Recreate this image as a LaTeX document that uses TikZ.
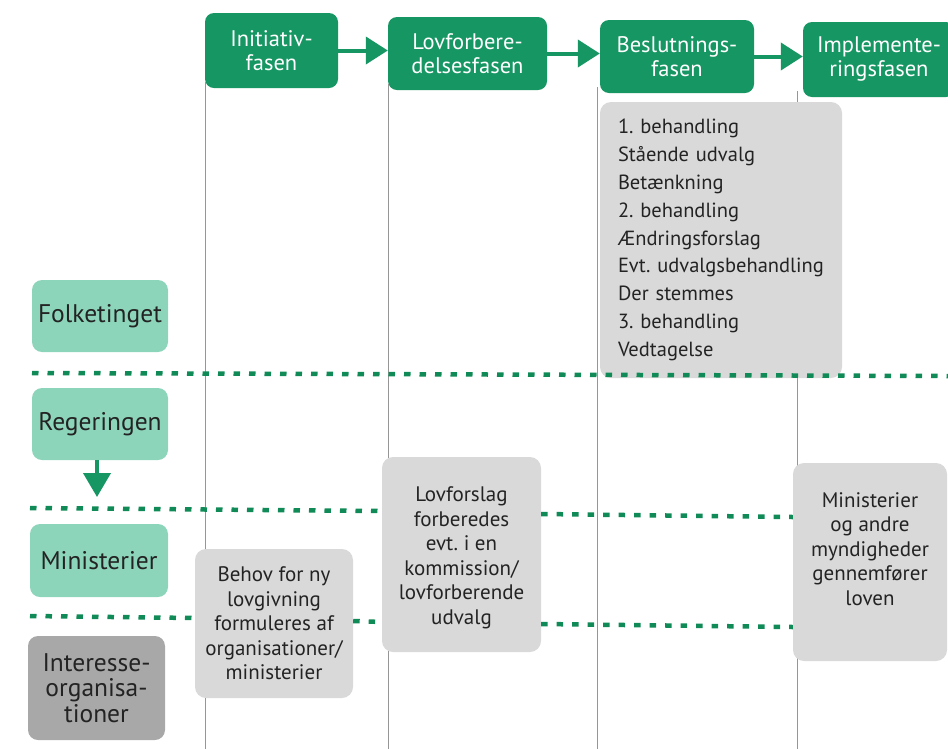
\documentclass[tikz,border=0pt]{standalone}
\usepackage{fontspec}
\setmainfont{PT Sans}
\usetikzlibrary{arrows.meta}
\definecolor{hdrgreen}{RGB}{22,150,98}
\definecolor{lightgreen}{RGB}{140,213,187}
\definecolor{dotgreen}{RGB}{16,138,86}
\definecolor{boxgray}{RGB}{217,217,217}
\definecolor{darkgray}{RGB}{168,168,168}
\definecolor{linegray}{RGB}{150,150,150}
\definecolor{txt}{RGB}{35,35,35}
\tikzset{
  hdr/.style={rectangle, rounded corners=9pt, fill=hdrgreen, text=white, align=center,
    inner sep=0pt, font=\fontsize{22.5}{24}\selectfont},
  actor/.style={rectangle, rounded corners=10pt, fill=lightgreen, text=txt, align=center,
    inner sep=0pt, font=\fontsize{25.5}{25.5}\selectfont},
  actorgray/.style={actor, fill=darkgray},
  graybox/.style={rectangle, rounded corners=11pt, fill=boxgray, text=txt, align=center,
    inner sep=0pt, font=\fontsize{21}{24.5}\selectfont},
  boxtext/.style={inner sep=0pt, text=txt, align=center, font=\fontsize{21}{24.5}\selectfont},
  phasearrow/.style={draw=hdrgreen, line width=4pt, -{Triangle[length=22pt,width=27pt]}},
  vline/.style={draw=linegray, line width=1pt},
  dotline/.style={draw=dotgreen, line width=4.5pt, dash pattern=on 6.5pt off 9pt}
}
\begin{document}
\frenchspacing
\begin{tikzpicture}[x=1pt,y=-1pt]
\useasboundingbox (0,0) rectangle (948,748);
% phase headers
\node[hdr, minimum width=133pt, minimum height=75pt] (h1) at (271.5,50.5) {Initiativ-\\fasen};
\node[hdr, minimum width=159pt, minimum height=73pt] (h2) at (467.5,53.5) {Lovforbere-\\delsesfasen};
\node[hdr, minimum width=154pt, minimum height=73pt] (h3) at (677,56.5) {Beslutnings-\\fasen};
\node[hdr, minimum width=152pt, minimum height=75pt] (h4) at (879,59.5) {Implemente-\\ringsfasen};
\draw[phasearrow] (h1.east) -- (h2.west |- h1.east);
\draw[phasearrow] (h2.east) -- (h3.west |- h2.east);
\draw[phasearrow] (h3.east) -- (h4.west |- h3.east);
% vertical phase lines
\draw[vline] (h1.south west) ++(0.5,-6) -- ++(0,670);
\draw[vline] (h2.south west) ++(0.5,-6) -- ++(0,670);
\draw[vline] (h3.south west) ++(-2,-6) -- ++(0,670);
\draw[vline] (h4.south west) ++(-5,-6) -- ++(0,670);
% actors
\node[actor, minimum width=136pt, minimum height=72pt] (folk) at (100,316) {Folketinget};
\node[actor, minimum width=136pt, minimum height=72pt] (reg) at (100,424) {Regeringen};
\node[actor, minimum width=138pt, minimum height=73pt] (min) at (99,560.5) {Ministerier};
\node[actorgray, minimum width=137pt, minimum height=104pt] (org) at (96.5,688) {Interesse-\\organisa-\\tioner};
\coordinate (regarrow) at (97,497);
\draw[draw=hdrgreen, line width=4pt, -{Triangle[length=24pt,width=27pt]}] (reg.south -| regarrow) -- (regarrow);
% gray boxes
\node[graybox, minimum width=242pt, minimum height=276pt, align=left, text width=206pt,
  font=\fontsize{20.5}{27.8}\selectfont] (list) at (721,240)
  {1. behandling\\Stående udvalg\\Betænkning\\2. behandling\\Ændringsforslag\\Evt. udvalgsbehandling\\Der stemmes\\3. behandling\\Vedtagelse};
\node[graybox, minimum width=159pt, minimum height=195pt] (prep) at (461.5,554.5) {};
\node[boxtext] (prept) at (461.5,558)
  {Lovforslag\\forberedes\\evt. i en\\kommission/\\lovforberende\\udvalg};
\node[graybox, minimum width=158pt, minimum height=149pt] (need) at (274,623.5)
  {Behov for ny\\lovgivning\\formuleres af\\organisationer/\\ministerier};
\node[graybox, minimum width=154pt, minimum height=198pt] (impl) at (870,562) {};
\node[boxtext] (implt) at (870,549)
  {Ministerier\\og andre\\myndigheder\\gennemfører\\loven};
% dotted separators
\coordinate (d1a) at (32,373);
\coordinate (d1b) at (948,376);
\draw[dotline] (d1a) -- (d1b);
\coordinate (d2a) at (30,508);
\draw[dotline] (d2a) -- (prep.west |- 0,511);
\draw[dotline] (prep.east |- 0,514) -- (impl.west |- 0,517);
\coordinate (d3a) at (30,616);
\draw[dotline] (d3a) -- (need.west |- 0,618);
\draw[dotline] (need.east |- 0,621) -- (prep.west |- 0,622);
\draw[dotline] (prep.east |- 0,624) -- (impl.west |- 0,627);
\end{tikzpicture}
\end{document}
